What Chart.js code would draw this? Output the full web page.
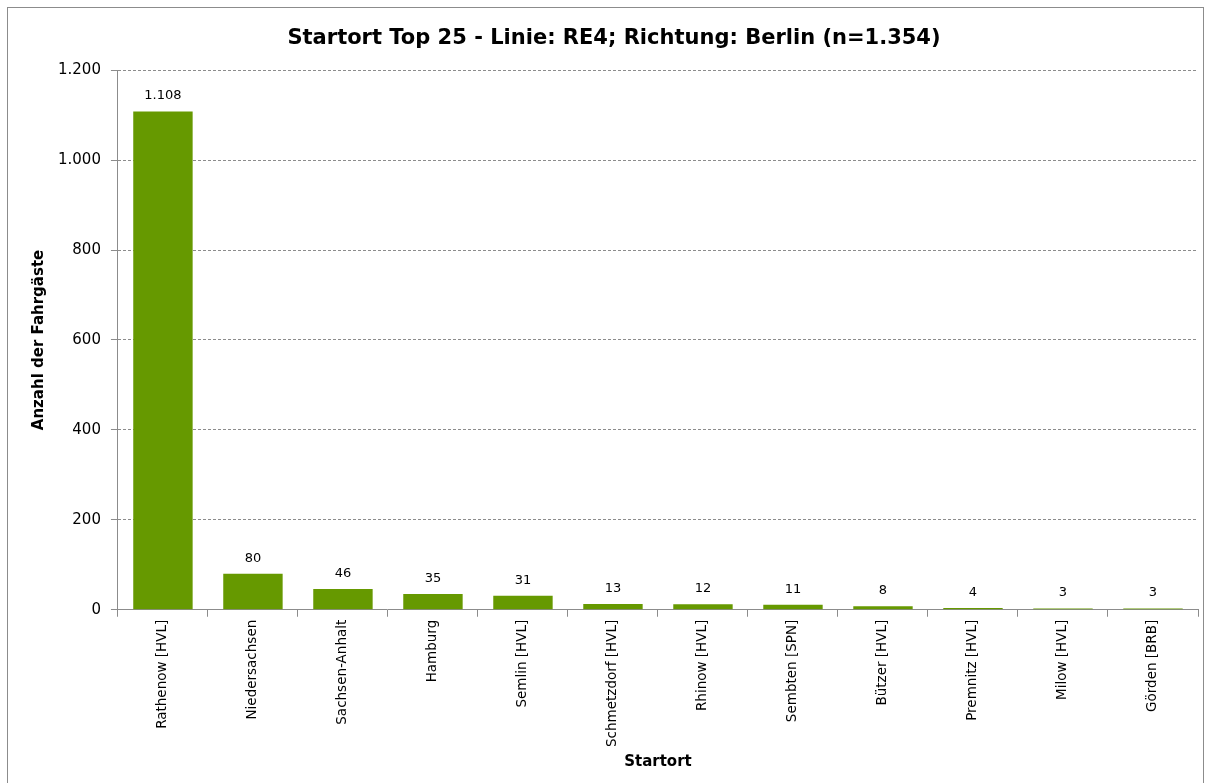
<!DOCTYPE html>
<html>
<head>
<meta charset="utf-8">
<script src="https://cdn.jsdelivr.net/npm/chart.js@4/dist/chart.umd.min.js"></script>
<style>
  html, body { margin: 0; padding: 0; background: #fff; }
  #frame { position: absolute; left: 7px; top: 7px; width: 1197px; height: 790px; border: 1px solid #8c8c8c; box-sizing: border-box; }
  #wrap { position: absolute; left: 0; top: 0; width: 1208px; height: 783px; }
</style>
</head>
<body>
<div id="frame"></div>
<div id="wrap"><canvas id="chart" width="1208" height="783"></canvas></div>
<script>
var orte = ['Rathenow [HVL]', 'Niedersachsen', 'Sachsen-Anhalt', 'Hamburg', 'Semlin [HVL]', 'Schmetzdorf [HVL]',
            'Rhinow [HVL]', 'Sembten [SPN]', 'Bützer [HVL]', 'Premnitz [HVL]', 'Milow [HVL]', 'Görden [BRB]'];
var fahrgaeste = [1108, 80, 46, 35, 31, 13, 12, 11, 8, 4, 3, 3];
var yTicks = [0, 200, 400, 600, 800, 1000, 1200];

var fmt = function(v){ return Number(v).toLocaleString('de-DE'); };

// werte ueber die balken schreiben
var labelPlugin = {
    id: 'werte',
    afterDatasetsDraw: function(chart){
        var ctx = chart.ctx;
        var meta = chart.getDatasetMeta(0);
        ctx.save();
        ctx.font = '13px "DejaVu Sans", Verdana, sans-serif';
        ctx.fillStyle = '#000';
        ctx.textAlign = 'center';
        ctx.textBaseline = 'bottom';
        meta.data.forEach(function(bar, i){
            ctx.fillText(fmt(fahrgaeste[i]), bar.x, bar.y - 9);
        });
        ctx.restore();
    }
};

var chart = new Chart(document.getElementById('chart'), {
    type: 'bar',
    data: {
        labels: orte,
        datasets: [{
            label: 'Anzahl',
            data: fahrgaeste,
            backgroundColor: '#669900',
            borderWidth: 0,
            barPercentage: 0.66,
            categoryPercentage: 1.0
        }]
    },
    options: {
        responsive: false,
        animation: false,
        locale: 'de-DE',
        layout: { padding: { left: 30, right: 10, top: 10, bottom: 12 } },
        plugins: {
            legend: { display: false },
            tooltip: { enabled: false },
            title: {
                display: true,
                text: 'Startort Top 25 - Linie: RE4; Richtung: Berlin (n=1.354)',
                color: '#000',
                font: { family: '"DejaVu Sans", Tahoma, sans-serif', size: 21, weight: 'bold' },
                padding: { top: 16, bottom: 19 }
            }
        },
        scales: {
            x: {
                offset: true,
                grid: { offset: true, drawOnChartArea: false, drawTicks: true, tickLength: 7, color: '#8c8c8c' },
                border: { display: true, color: '#8c8c8c' },
                ticks: {
                    color: '#000',
                    minRotation: 90, maxRotation: 90,
                    padding: 3,
                    font: { family: '"DejaVu Sans", Verdana, sans-serif', size: 13.5 }
                },
                title: {
                    display: true,
                    text: 'Startort',
                    color: '#000',
                    font: { family: '"DejaVu Sans", Verdana, sans-serif', size: 15, weight: 'bold' },
                    padding: { top: 3, bottom: 0 }
                }
            },
            y: {
                min: 0, max: 1200,
                afterBuildTicks: function(axis){ axis.ticks = yTicks.map(function(v){ return { value: v }; }); },
                grid: { color: '#8c8c8c', tickLength: 7, drawTicks: true, tickBorderDash: [] },
                border: { display: true, color: '#8c8c8c', dash: [3, 2] },
                ticks: {
                    color: '#000',
                    padding: 10,
                    font: { family: '"DejaVu Sans", Verdana, sans-serif', size: 15 },
                    callback: function(v){ return fmt(v); }
                },
                title: {
                    display: true,
                    text: 'Anzahl der Fahrgäste',
                    color: '#000',
                    font: { family: '"DejaVu Sans", Verdana, sans-serif', size: 15, weight: 'bold' },
                    padding: { top: 0, bottom: 0 }
                }
            }
        }
    },
    plugins: [labelPlugin]
});
</script>
</body>
</html>
